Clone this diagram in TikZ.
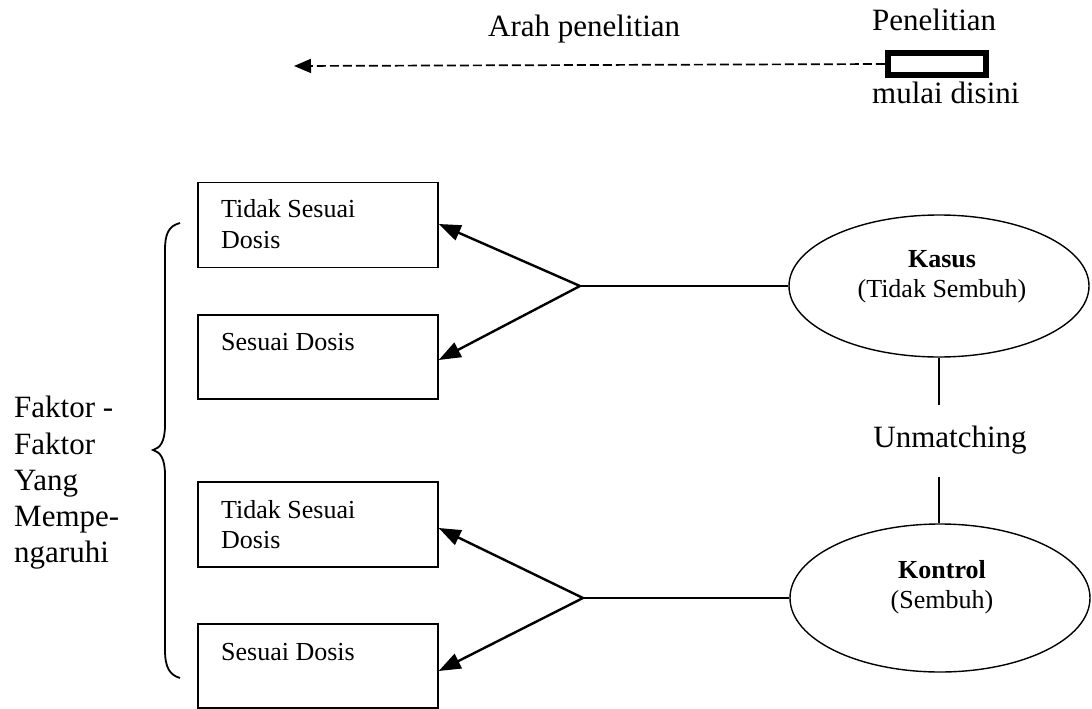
\documentclass[tikz,border=0pt]{standalone}
\usepackage{fontspec}
\setmainfont{Liberation Serif}
\usetikzlibrary{arrows.meta,shapes.geometric}
\begin{document}
\begin{tikzpicture}[x=1pt,y=-1pt,
  box/.style={draw, line width=1.4pt, minimum width=240pt, inner sep=0pt},
  boxtxt/.style={anchor=base west, inner sep=0pt, font=\fontsize{26}{30}\selectfont},
  ell/.style={draw, ellipse, line width=1.4pt, minimum width=300pt, inner sep=0pt},
  elltxt/.style={anchor=base, inner sep=0pt, font=\fontsize{26}{30}\selectfont},
  big/.style={inner sep=0pt, font=\fontsize{31}{38}\selectfont},
  arr/.style={line width=2.4pt, -{Triangle[length=22pt,width=16pt]}},
  conn/.style={line width=1.4pt}
]
\useasboundingbox (0,0) rectangle (1092,709);
\fill[white] (0,0) rectangle (1092,709);

% top legend
\node[big, anchor=base west] (arah) at (488,37) {Arah penelitian};
\node[big, anchor=base west] (pen) at (872,31) {Penelitian};
\node[draw, line width=6.5pt, minimum width=98pt, minimum height=22pt, inner sep=0pt] (start) at (937,64) {};
\node[big, anchor=base west] (mulai) at (872,103) {mulai disini};
\coordinate (dirend) at (294,66);
\draw[line width=1.7pt, dash pattern=on 9pt off 4pt, -{Triangle[length=17pt,width=14pt]}] (start.west) -- (dirend);

% boxes
\node[box, minimum height=85pt] (b1) at (318,225) {};
\node[box, minimum height=84pt] (b2) at (318,357) {};
\node[box, minimum height=85pt] (b3) at (318,524.5) {};
\node[box, minimum height=84pt] (b4) at (318,666) {};

\node[boxtxt] (t1a) at (221,217) {Tidak Sesuai};
\node[boxtxt] (t1b) at (221,248) {Dosis};
\node[boxtxt] (t2) at (221,350) {Sesuai Dosis};
\node[boxtxt] (t3a) at (221,518) {Tidak Sesuai};
\node[boxtxt] (t3b) at (221,548) {Dosis};
\node[boxtxt] (t4) at (221,660) {Sesuai Dosis};

% ellipses
\node[ell, minimum height=142pt] (kasus) at (939,286) {};
\node[ell, minimum height=148pt] (kontrol) at (940,598) {};
\node[elltxt, font=\fontsize{26}{30}\selectfont\bfseries] (kasusA) at (942,267) {Kasus};
\node[elltxt] (kasusB) at (942,297) {(Tidak Sembuh)};
\node[elltxt, font=\fontsize{26}{30}\selectfont\bfseries] (kontrolA) at (942,578) {Kontrol};
\node[elltxt] (kontrolB) at (942,608) {(Sembuh)};

\node[anchor=base, inner sep=0pt, font=\fontsize{31}{36}\selectfont] (um) at (950,447) {Unmatching};
\coordinate (umtop) at (939,405);
\coordinate (umbot) at (939,477);
\draw[conn, line width=1.8pt] (kasus.south) -- (umtop);
\draw[conn, line width=1.8pt] (umbot) -- (kontrol.north -| umbot);

% junctions and arrows
\coordinate (j1) at (580,286);
\coordinate (j2) at (583,598);
\draw[conn] (j1) -- (kasus.west);
\draw[conn] (j2) -- (kontrol.west);
\draw[arr] (j1) -- ([yshift=1pt]b1.east);
\draw[arr] (j1) -- ([yshift=-3pt]b2.east);
\draw[arr] (j2) -- ([yshift=-3.5pt]b3.east);
\draw[arr] (j2) -- ([yshift=-5pt]b4.east);

% brace
\draw[line width=1.8pt] (180,223) .. controls (168,226) and (165,235) .. (165,250)
  -- (165,425) .. controls (165,442) and (160,448) .. (153,450)
  .. controls (160,452) and (165,458) .. (165,475)
  -- (165,650) .. controls (165,668) and (170,675) .. (180,678);

% left label
\node[big, anchor=base west] (f1) at (14,417) {Faktor -};
\node[big, anchor=base west] (f2) at (14,454) {Faktor};
\node[big, anchor=base west] (f3) at (14,490) {Yang};
\node[big, anchor=base west] (f4) at (14,526) {Mempe-};
\node[big, anchor=base west] (f5) at (14,562) {ngaruhi};
\end{tikzpicture}
\end{document}
